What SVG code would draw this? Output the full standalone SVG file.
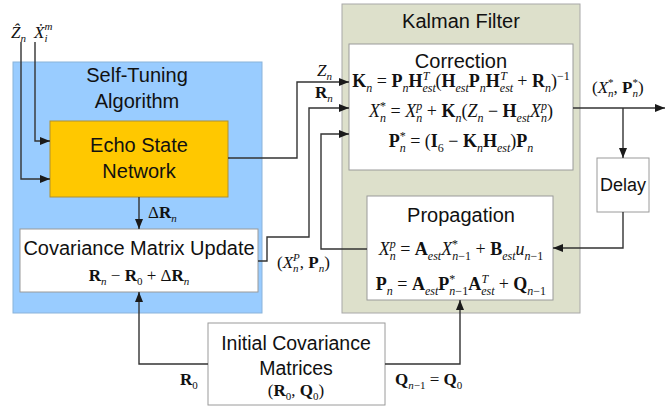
<svg xmlns="http://www.w3.org/2000/svg" width="667" height="407" viewBox="0 0 667 407">
<style>
.sans{font-family:"Liberation Sans",Arial,sans-serif;font-size:20px;fill:#111;text-anchor:middle}
.eq{font-family:"Liberation Serif","DejaVu Serif",serif;font-size:18px;fill:#111}
.lb{font-family:"Liberation Serif","DejaVu Serif",serif;font-size:17px;fill:#111}
.b{font-weight:bold}
.i{font-style:italic}
.s{font-size:12px;font-style:italic;font-weight:normal}
.su{font-size:12px;font-style:normal;font-weight:normal}
.lb .s,.lb .su{font-size:11px}
.box{fill:#fff;stroke:#9a9a9a;stroke-width:1}
.wire{fill:none;stroke:#333;stroke-width:1.4}
</style>
<defs>
<marker id="ah" markerWidth="10" markerHeight="8" refX="10" refY="4" orient="auto" markerUnits="userSpaceOnUse">
<path d="M0,0 L10,4 L0,8 z" fill="#1a1a1a"/>
</marker>
</defs>

<!-- container blocks -->
<g id="self-tuning">
<rect x="13" y="62" width="249" height="251" fill="#99ccff" stroke="#8ab3da" stroke-width="1"/>
<text class="sans" x="137" y="82">Self-Tuning</text>
<text class="sans" x="137" y="108">Algorithm</text>
</g>
<g id="kalman-filter">
<rect x="342" y="4" width="238" height="309" fill="#dde0cb" stroke="#a8a8a8" stroke-width="1"/>
<text class="sans" x="461" y="28">Kalman Filter</text>
</g>

<!-- nodes -->
<g id="esn">
<rect x="50" y="121" width="178" height="76" fill="#ffc800" stroke="#b09030" stroke-width="1"/>
<text class="sans" x="139" y="152">Echo State</text>
<text class="sans" x="139" y="178">Network</text>
</g>
<g id="cov-update">
<rect class="box" x="20" y="229" width="238" height="63"/>
<text class="sans" x="139" y="255">Covariance Matrix Update</text>
<text class="lb" x="139" y="281" text-anchor="middle"><tspan class="b">R</tspan><tspan class="s" dy="4">n</tspan><tspan dy="-4"> − </tspan><tspan class="b">R</tspan><tspan class="su" dy="4">0</tspan><tspan dy="-4"> + Δ</tspan><tspan class="b">R</tspan><tspan class="s" dy="4">n</tspan></text>
</g>
<g id="correction">
<rect class="box" x="349" y="44" width="224" height="126"/>
<text class="sans" x="461" y="68">Correction</text>
<text class="eq" x="461" y="87" text-anchor="middle"><tspan class="b">K</tspan><tspan class="s" dy="5">n</tspan><tspan dy="-5"> = </tspan><tspan class="b">P</tspan><tspan class="s" dy="5">n</tspan><tspan class="b" dy="-5">H</tspan><tspan class="s" dy="5">est</tspan><tspan class="s" dx="-13" dy="-12">T</tspan><tspan dx="6" dy="7">(</tspan><tspan class="b">H</tspan><tspan class="s" dy="5">est</tspan><tspan class="b" dy="-5">P</tspan><tspan class="s" dy="5">n</tspan><tspan class="b" dy="-5">H</tspan><tspan class="s" dy="5">est</tspan><tspan class="s" dx="-13" dy="-12">T</tspan><tspan dx="6" dy="7"> + </tspan><tspan class="b">R</tspan><tspan class="s" dy="5">n</tspan><tspan dy="-5">)</tspan><tspan class="su" dy="-7">−1</tspan></text>
<text class="eq" x="461" y="117" text-anchor="middle"><tspan class="i">X</tspan><tspan class="s" dy="5">n</tspan><tspan class="su" dx="-6" dy="-12">*</tspan><tspan dy="7"> = </tspan><tspan class="i">X</tspan><tspan class="s" dy="5">n</tspan><tspan class="s" dx="-6" dy="-12">p</tspan><tspan dy="7"> + </tspan><tspan class="b">K</tspan><tspan class="s" dy="5">n</tspan><tspan dy="-5">(</tspan><tspan class="i">Z</tspan><tspan class="s" dy="5">n</tspan><tspan dy="-5"> − </tspan><tspan class="b">H</tspan><tspan class="s" dy="5">est</tspan><tspan class="i" dy="-5">X</tspan><tspan class="s" dy="5">n</tspan><tspan class="s" dx="-6" dy="-12">p</tspan><tspan dy="7">)</tspan></text>
<text class="eq" x="461" y="147" text-anchor="middle"><tspan class="b">P</tspan><tspan class="s" dy="5">n</tspan><tspan class="su" dx="-6" dy="-12">*</tspan><tspan dy="7"> = (</tspan><tspan class="b">I</tspan><tspan class="su" dy="5">6</tspan><tspan dy="-5"> − </tspan><tspan class="b">K</tspan><tspan class="s" dy="5">n</tspan><tspan class="b" dy="-5">H</tspan><tspan class="s" dy="5">est</tspan><tspan dy="-5">)</tspan><tspan class="b">P</tspan><tspan class="s" dy="5">n</tspan></text>
</g>
<g id="propagation">
<rect class="box" x="367" y="196" width="186" height="104"/>
<text class="sans" x="461" y="222">Propagation</text>
<text class="eq" x="461" y="255" text-anchor="middle"><tspan class="i">X</tspan><tspan class="s" dy="5">n</tspan><tspan class="s" dx="-6" dy="-12">p</tspan><tspan dy="7"> = </tspan><tspan class="b">A</tspan><tspan class="s" dy="5">est</tspan><tspan class="i" dy="-5">X</tspan><tspan class="s" dy="5">n</tspan><tspan class="su">−1</tspan><tspan class="su" dx="-19" dy="-12">*</tspan><tspan dx="13" dy="7"> + </tspan><tspan class="b">B</tspan><tspan class="s" dy="5">est</tspan><tspan class="i" dy="-5">u</tspan><tspan class="s" dy="5">n</tspan><tspan class="su">−1</tspan></text>
<text class="eq" x="461" y="290" text-anchor="middle"><tspan class="b">P</tspan><tspan class="s" dy="5">n</tspan><tspan dy="-5"> = </tspan><tspan class="b">A</tspan><tspan class="s" dy="5">est</tspan><tspan class="b" dy="-5">P</tspan><tspan class="s" dy="5">n</tspan><tspan class="su">−1</tspan><tspan class="su" dx="-19" dy="-12">*</tspan><tspan class="b" dx="13" dy="7">A</tspan><tspan class="s" dy="5">est</tspan><tspan class="s" dx="-13" dy="-12">T</tspan><tspan dx="6" dy="7"> + </tspan><tspan class="b">Q</tspan><tspan class="s" dy="5">n</tspan><tspan class="su">−1</tspan></text>
</g>
<g id="delay">
<rect class="box" x="597" y="158" width="52" height="54"/>
<text class="sans" x="623" y="191" style="font-size:18px">Delay</text>
</g>
<g id="initial-cov">
<rect class="box" x="208" y="323" width="177" height="82"/>
<text class="sans" x="296" y="350" style="font-size:19.5px">Initial Covariance</text>
<text class="sans" x="296" y="375" style="font-size:19.5px">Matrices</text>
<text class="lb" x="296" y="396" text-anchor="middle">(<tspan class="b">R</tspan><tspan class="su" dy="4">0</tspan><tspan dy="-4">, </tspan><tspan class="b">Q</tspan><tspan class="su" dy="4">0</tspan><tspan dy="-4">)</tspan></text>
</g>

<!-- connectors -->
<g id="connectors" class="wire" marker-end="url(#ah)">
<path d="M21,42 V179 H50"/>
<path d="M35,42 V141 H50"/>
<path d="M139,197 V229"/>
<path d="M228,158 H297 V82 H349"/>
<path d="M258,261 H267 V237 H309 V108 H349"/>
<path d="M367,249 H321 V134 H349"/>
<path d="M573,108 H665"/>
<path d="M623,108 V158"/>
<path d="M623,212 V248 H553"/>
<path d="M208,364 H139 V292"/>
<path d="M385,364 H460 V300"/>
</g>

<!-- signal labels -->
<g id="labels">
<text class="lb" x="11" y="38"><tspan class="i">Ẑ</tspan><tspan class="s" dy="4">n</tspan></text>
<text class="lb" x="34" y="38"><tspan class="i">Ẋ</tspan><tspan class="s" dy="4">i</tspan><tspan class="s" dx="-3" dy="-12">m</tspan></text>
<text class="lb" x="317" y="76"><tspan class="i">Z</tspan><tspan class="s" dy="4">n</tspan></text>
<text class="lb" x="315" y="98"><tspan class="b">R</tspan><tspan class="s" dy="4">n</tspan></text>
<text class="lb" x="148" y="218">Δ<tspan class="b">R</tspan><tspan class="s" dy="4">n</tspan></text>
<text class="lb" x="277" y="268">(<tspan class="i">X</tspan><tspan class="s" dy="4">n</tspan><tspan class="s" dx="-5.5" dy="-11">P</tspan><tspan dy="7">, </tspan><tspan class="b">P</tspan><tspan class="s" dy="4">n</tspan><tspan dy="-4">)</tspan></text>
<text class="lb" x="592" y="93">(<tspan class="i">X</tspan><tspan class="s" dy="4">n</tspan><tspan class="su" dx="-5.5" dy="-11">*</tspan><tspan dy="7">, </tspan><tspan class="b">P</tspan><tspan class="s" dy="4">n</tspan><tspan class="su" dx="-5.5" dy="-11">*</tspan><tspan dy="7">)</tspan></text>
<text class="lb" x="180" y="385"><tspan class="b">R</tspan><tspan class="su" dy="4">0</tspan></text>
<text class="lb" x="395" y="385"><tspan class="b">Q</tspan><tspan class="s" dy="4">n</tspan><tspan class="su">−1</tspan><tspan dy="-4"> = </tspan><tspan class="b">Q</tspan><tspan class="su" dy="4">0</tspan></text>
</g>
</svg>
